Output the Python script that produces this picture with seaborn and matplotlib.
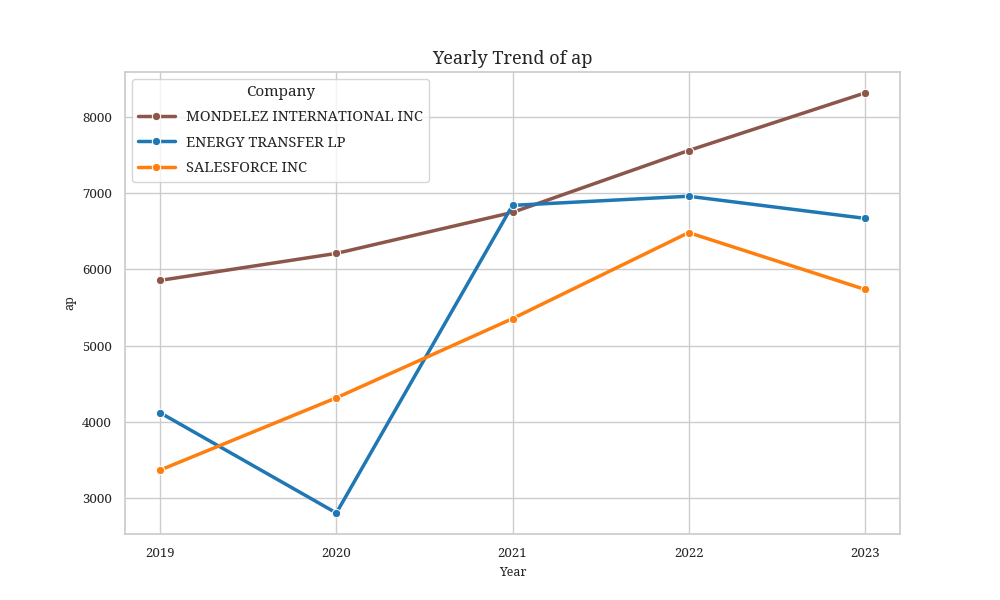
import pandas as pd
import matplotlib.pyplot as plt
import seaborn as sns

# Datos
years = [2019, 2020, 2021, 2022, 2023]
companies = ["MONDELEZ INTERNATIONAL INC", "ENERGY TRANSFER LP", "SALESFORCE INC"]
mondelez_ap = [5856, 6210, 6748, 7560, 8315]
energy_ap = [4118, 2803, 6840, 6960, 6670]
salesforce_ap = [3367, 4315, 5354, 6483, 5738]
colores = ["#8c564b", "#1f77b4", "#ff7f0e"]

# Armar tabla larga para seaborn
df = pd.DataFrame({
    "Year": years * 3,
    "Company": [c for c in companies for _ in years],
    "ap": mondelez_ap + energy_ap + salesforce_ap,
})

sns.set_theme(style="whitegrid")
plt.rcParams['font.family'] = ['Noto Serif', 'DejaVu Serif']

fig, ax = plt.subplots(figsize=(10, 6), dpi=100)
sns.lineplot(data=df, x="Year", y="ap", hue="Company", hue_order=companies,
             palette=colores, marker="o", linewidth=2.5, markersize=6, ax=ax)

ax.set_title("Yearly Trend of ap", fontsize=13)
ax.set_xlabel("Year", fontsize=9)
ax.set_ylabel("ap", fontsize=9)
ax.set_xticks(years)
ax.tick_params(axis='both', labelsize=9.5)
ax.legend(title="Company", fontsize=10.5, title_fontsize=11, loc="upper left",
          labelspacing=0.7, handlelength=2.5)

fig.savefig("out.png", dpi=100)
